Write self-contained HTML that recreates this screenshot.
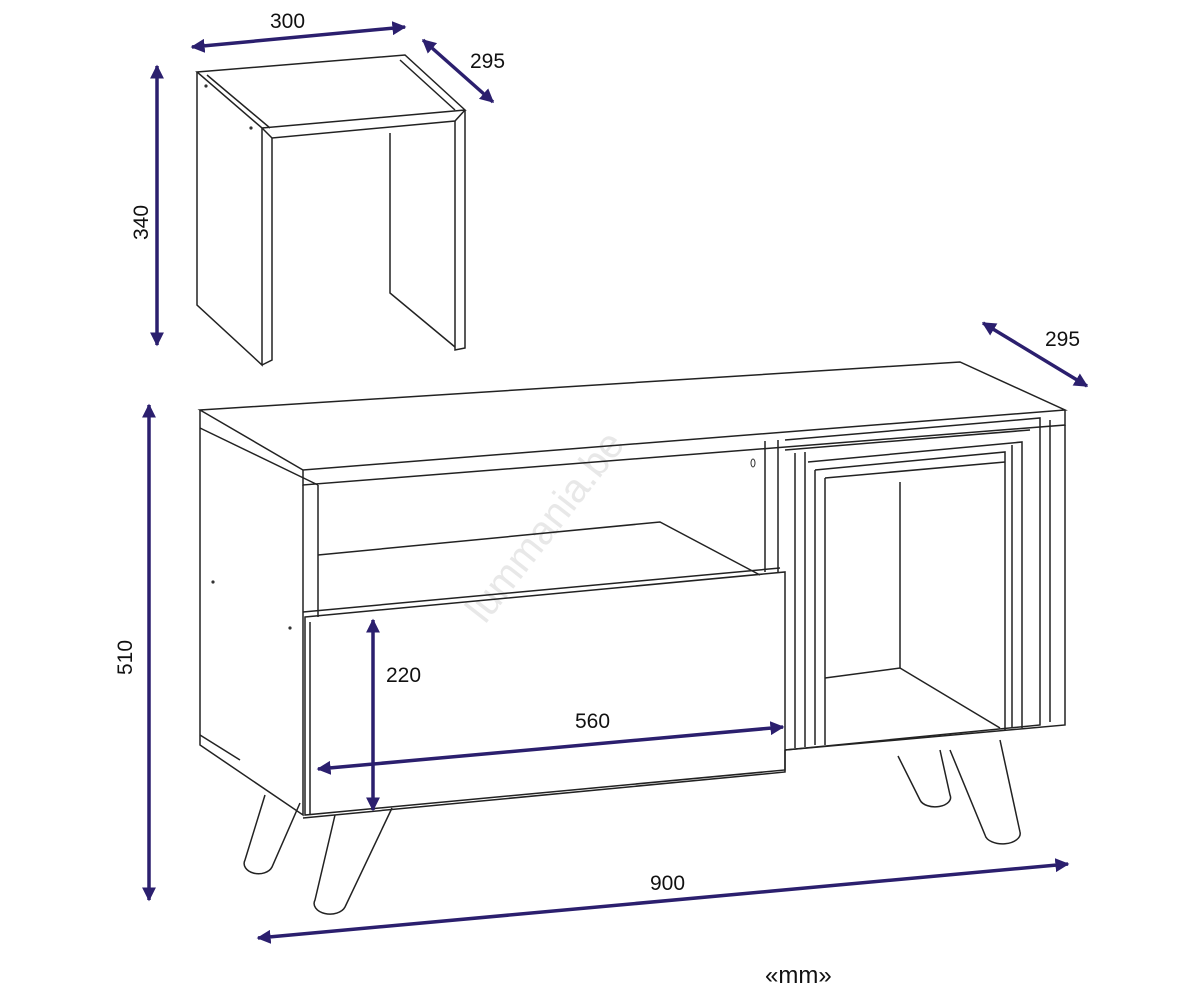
<!DOCTYPE html>
<html><head><meta charset="utf-8"><style>
html,body{margin:0;padding:0;background:#fff;}
svg{display:block}
text{font-family:"Liberation Sans",sans-serif;font-size:21px;fill:#111}
</style></head><body>
<svg width="1182" height="1002" viewBox="0 0 1182 1002" xmlns="http://www.w3.org/2000/svg">
<defs>
<marker id="a" viewBox="0 0 10 10" refX="9" refY="5" markerWidth="4" markerHeight="4" orient="auto-start-reverse"><path d="M0,0 L10,5 L0,10 z" fill="#2b1f6e"/></marker>
</defs>
<text transform="translate(485,625) rotate(-52)" style="font-size:40px;fill:#e8e8e8">lummania.be</text>
<g fill="none" stroke="#222" stroke-width="1.5">
<polygon points="197,72 405,55 465,110 262,128"/>
<polyline points="207,75 270,128"/>
<polyline points="400,60 455,110"/>
<polyline points="262,128 272,138 455,121 465,110"/>
<polyline points="197,72 197,305 262,365 262,128"/>
<polyline points="272,138 272,360 262,365"/>
<polyline points="465,110 465,348 455,350 455,121"/>
<polyline points="390,133 390,293 455,347"/>
<polygon points="200,410 960,362 1065,410 303,470"/>
<polyline points="303,470 303,485 1065,425 1065,410"/>
<polyline points="200,410 200,745 303,815 303,485"/>
<polyline points="200,428 318,485"/>
<polyline points="318,485 318,617"/>
<polyline points="200,735 240,760"/>
<polyline points="318,555 660,522 760,575"/>
<line x1="765" y1="441" x2="765" y2="572"/>
<line x1="778" y1="440" x2="778" y2="572"/>
<polygon points="305,617 785,572 785,770 305,815"/>
<polyline points="310,622 310,815"/>
<polyline points="303,612 780,568"/>
<polyline points="785,440 1040,418 1040,725 785,750"/>
<polyline points="785,750 1065,725 1065,425"/>
<polyline points="1050,420 1050,722"/>
<polyline points="785,450 1030,430"/>
<polyline points="795,453 795,748"/>
<polyline points="805,452 805,747"/>
<polyline points="808,462 1022,442 1022,728"/>
<polyline points="815,470 1005,452 1005,730"/>
<polyline points="815,470 815,745"/>
<polyline points="825,478 1005,462"/>
<polyline points="825,478 825,745"/>
<polyline points="1012,445 1012,728"/>
<polyline points="825,678 900,668 1000,728"/>
<polyline points="900,482 900,668"/>
<polyline points="303,818 785,772 785,750"/>
<path d="M265,795 L245,860 A14,10 0 0 0 272,867 L300,803"/>
<path d="M335,815 L315,900 A15,10 0 0 0 345,907 L392,808"/>
<path d="M898,756 L920,800 A15,9 0 0 0 950,795 L940,750"/>
<path d="M950,750 L985,835 A17,10 0 0 0 1020,832 L1000,740"/>
</g>
<g fill="#333"><circle cx="206" cy="86" r="1.6"/><circle cx="251" cy="128" r="1.6"/><circle cx="213" cy="582" r="1.6"/><circle cx="290" cy="628" r="1.6"/><ellipse cx="753" cy="463" rx="2" ry="4" fill="none" stroke="#333"/></g>
<g stroke="#2b1f6e" stroke-width="3.5" fill="none" marker-start="url(#a)" marker-end="url(#a)">
<line x1="192" y1="47" x2="405" y2="27"/>
<line x1="423" y1="40" x2="493" y2="102"/>
<line x1="157" y1="66" x2="157" y2="345"/>
<line x1="983" y1="323" x2="1087" y2="386"/>
<line x1="149" y1="405" x2="149" y2="900"/>
<line x1="373" y1="620" x2="373" y2="810"/>
<line x1="318" y1="769" x2="783" y2="727"/>
<line x1="258" y1="938" x2="1068" y2="864"/>
</g>
<text x="270" y="28">300</text>
<text x="470" y="68">295</text>
<text x="1045" y="346">295</text>
<text x="386" y="682">220</text>
<text x="575" y="728">560</text>
<text x="650" y="890">900</text>
<text x="765" y="983" style="font-size:24px">«mm»</text>
<text transform="translate(148,240) rotate(-90)">340</text>
<text transform="translate(132,675) rotate(-90)">510</text>
</svg>
</body></html>
